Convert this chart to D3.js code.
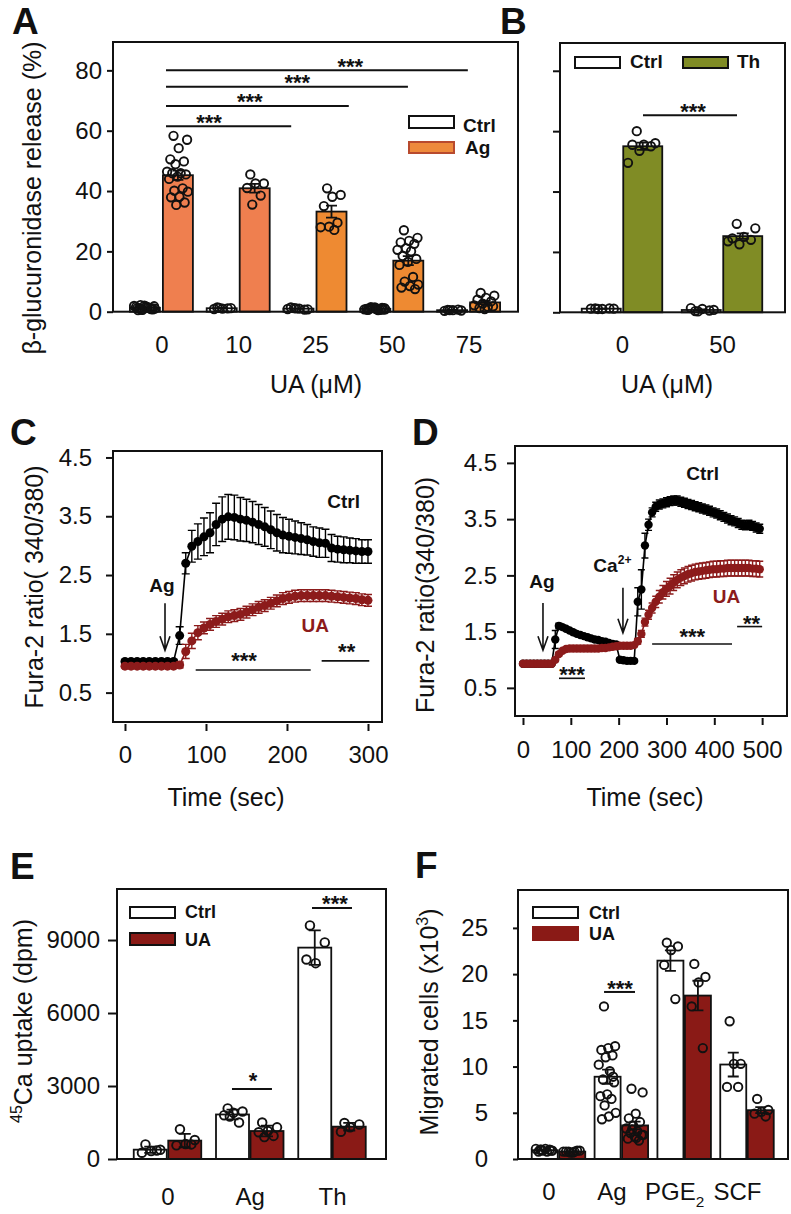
<!DOCTYPE html>
<html>
<head>
<meta charset="utf-8">
<script src="https://cdn.jsdelivr.net/npm/d3@7"></script>
<style>
  body { margin: 0; background: #fff; }
  svg { display: block; }
</style>
</head>
<body>
<div id="chart"></div>
<script>
// ---------- data ----------
// A: beta-glucuronidase release (%), individual replicates per UA concentration
const concA = ['0', '10', '25', '50', '75'];
const ctrlA = [
  [2.2, 1.8, 1.5, 1.2, 0.9, 0.6, 1.9, 1.4, 1.1, 0.8, 2.0, 1.6, 1.3, 0.7, 1.0, 1.7, 0.5, 1.2],
  [1.4, 1.2, 1.0, 0.9, 1.1, 1.3],
  [1.2, 0.8, 1.0, 1.4, 0.7, 1.1, 0.9],
  [1.5, 1.2, 0.9, 0.6, 1.0, 1.3, 0.8, 0.5, 1.1, 0.7, 1.4, 0.9, 0.6, 1.2, 0.8, 1.0, 0.7, 1.3],
  [0.6, 0.4, 0.5, 0.3, 0.7, 0.5]
];
const agA = [
  [58.3, 57.0, 54.2, 50.5, 49.8, 48.9, 46.4, 45.9, 45.9, 45.5, 44.8, 44.0, 40.9, 40.1, 39.8, 38.1, 37.9, 36.2, 35.4],
  [45.5, 42.5, 42.5, 41.0, 38.5, 35.5],
  [40.9, 38.7, 38.1, 35.0, 29.5, 28.2, 28.0, 27.1],
  [27.0, 24.5, 23.5, 23.0, 22.5, 21.0, 20.5, 20.0, 18.5, 17.5, 16.5, 15.5, 11.5, 10.0, 9.0, 8.5, 8.0, 7.5],
  [6.2, 5.3, 4.6, 4.0, 3.4, 2.7, 2.1, 1.6, 1.2, 1.8, 0.9]
];

// B: thapsigargin
const concB = ['0', '50'];
const ctrlB = [[1.3, 1.2, 1.1, 1.2, 1.3, 1.1], [0.4, 0.8, 1.1, 1.4, 0.6, 0.3]];
const thB = [[60.0, 56.0, 55.5, 55.5, 55.0, 53.5, 49.5], [29.3, 27.8, 25.0, 24.5, 24.0, 22.5, 23.5]];

// C: Fura-2 ratio, Ag stimulation
const timeC = [0, 7.5, 15, 22.5, 30, 37.5, 45, 52.5, 60, 67.5, 75, 82.5, 90, 97.5, 105, 112.5, 120, 127.5, 135, 142.5,
  150, 157.5, 165, 172.5, 180, 187.5, 195, 202.5, 210, 217.5, 225, 232.5, 240, 247.5, 255, 262.5, 270, 277.5, 285, 292.5, 300];
const ctrlC = [1.03, 1.03, 1.03, 1.03, 1.03, 1.03, 1.03, 1.03, 1.03, 1.47, 2.70, 2.99, 3.07, 3.15, 3.22, 3.36, 3.45, 3.49, 3.48, 3.45,
  3.43, 3.40, 3.36, 3.32, 3.27, 3.22, 3.18, 3.16, 3.14, 3.12, 3.10, 3.07, 3.05, 3.04, 2.96, 2.94, 2.93, 2.92, 2.91, 2.90, 2.90];
const ctrlCErr = [0.03, 0.03, 0.03, 0.03, 0.03, 0.03, 0.03, 0.03, 0.03, 0.15, 0.18, 0.27, 0.30, 0.32, 0.34, 0.36, 0.38, 0.38, 0.38, 0.37,
  0.36, 0.35, 0.34, 0.33, 0.32, 0.31, 0.30, 0.29, 0.28, 0.27, 0.26, 0.25, 0.25, 0.24, 0.23, 0.22, 0.22, 0.21, 0.21, 0.20, 0.20];
const uaC = [0.95, 0.95, 0.95, 0.95, 0.95, 0.95, 0.95, 0.95, 0.95, 0.97, 1.20, 1.38, 1.52, 1.60, 1.66, 1.71, 1.75, 1.79, 1.81, 1.83,
  1.87, 1.91, 1.95, 1.98, 2.02, 2.06, 2.10, 2.12, 2.14, 2.15, 2.15, 2.15, 2.15, 2.15, 2.14, 2.13, 2.12, 2.11, 2.10, 2.08, 2.07];
const uaCErr = [0.03, 0.03, 0.03, 0.03, 0.03, 0.03, 0.03, 0.03, 0.03, 0.05, 0.12, 0.13, 0.12, 0.10, 0.10, 0.10, 0.10, 0.10, 0.10, 0.10,
  0.10, 0.10, 0.10, 0.10, 0.10, 0.10, 0.10, 0.10, 0.10, 0.10, 0.10, 0.10, 0.10, 0.10, 0.10, 0.10, 0.10, 0.10, 0.10, 0.10, 0.10];

// D: Fura-2 ratio, Ag then Ca2+ add-back
const timeD = [0, 7.5, 15, 22.5, 30, 37.5, 45, 52.5, 60, 67.5, 75, 82.5, 90, 97.5, 105, 112.5, 120, 127.5, 135, 142.5,
  150, 157.5, 165, 172.5, 180, 187.5, 195, 202.5, 210, 217.5, 225, 232.5, 240, 247.5, 255, 262.5, 270, 277.5, 285, 292.5,
  300, 307.5, 315, 322.5, 330, 337.5, 345, 352.5, 360, 367.5, 375, 382.5, 390, 397.5, 405, 412.5, 420, 427.5, 435, 442.5,
  450, 457.5, 465, 472.5, 480, 487.5, 495];
const ctrlD = [0.93, 0.93, 0.93, 0.93, 0.93, 0.93, 0.93, 0.93, 0.93, 1.36, 1.60, 1.58, 1.55, 1.52, 1.49, 1.46, 1.44, 1.42, 1.40, 1.38,
  1.36, 1.35, 1.33, 1.32, 1.30, 1.28, 1.27, 1.00, 0.99, 0.98, 0.98, 0.98, 2.03, 2.25, 3.03, 3.40, 3.62, 3.72, 3.76, 3.78,
  3.80, 3.82, 3.83, 3.83, 3.81, 3.79, 3.77, 3.75, 3.73, 3.71, 3.69, 3.67, 3.65, 3.62, 3.60, 3.57, 3.54, 3.51, 3.48, 3.46,
  3.43, 3.40, 3.39, 3.40, 3.38, 3.35, 3.33];
const ctrlDErr = [0.02, 0.02, 0.02, 0.02, 0.02, 0.02, 0.02, 0.02, 0.02, 0.16, 0.05, 0.03, 0.03, 0.03, 0.03, 0.03, 0.03, 0.03, 0.03, 0.03,
  0.03, 0.03, 0.03, 0.03, 0.03, 0.03, 0.03, 0.03, 0.03, 0.03, 0.03, 0.03, 0.25, 0.35, 0.22, 0.10, 0.08, 0.08, 0.08, 0.08,
  0.08, 0.08, 0.08, 0.08, 0.08, 0.08, 0.08, 0.08, 0.08, 0.08, 0.08, 0.08, 0.08, 0.08, 0.08, 0.08, 0.08, 0.08, 0.08, 0.08,
  0.08, 0.08, 0.08, 0.08, 0.08, 0.08, 0.08];
const uaD = [0.93, 0.93, 0.93, 0.93, 0.93, 0.93, 0.93, 0.93, 0.93, 1.00, 1.10, 1.16, 1.19, 1.20, 1.20, 1.20, 1.20, 1.20, 1.20, 1.20,
  1.20, 1.20, 1.21, 1.21, 1.22, 1.23, 1.24, 1.25, 1.25, 1.25, 1.25, 1.26, 1.33, 1.46, 1.67, 1.80, 1.92, 2.03, 2.12, 2.20,
  2.26, 2.31, 2.37, 2.42, 2.46, 2.49, 2.52, 2.54, 2.56, 2.57, 2.58, 2.59, 2.60, 2.61, 2.61, 2.62, 2.62, 2.63, 2.63, 2.63,
  2.63, 2.63, 2.63, 2.63, 2.62, 2.62, 2.61];
const uaDErr = [0.02, 0.02, 0.02, 0.02, 0.02, 0.02, 0.02, 0.02, 0.02, 0.03, 0.03, 0.03, 0.03, 0.03, 0.03, 0.03, 0.03, 0.03, 0.03, 0.03,
  0.03, 0.03, 0.03, 0.03, 0.03, 0.03, 0.03, 0.03, 0.03, 0.03, 0.03, 0.03, 0.05, 0.06, 0.07, 0.08, 0.09, 0.10, 0.11, 0.12,
  0.13, 0.14, 0.14, 0.14, 0.14, 0.14, 0.14, 0.14, 0.14, 0.14, 0.14, 0.14, 0.14, 0.14, 0.14, 0.14, 0.14, 0.14, 0.14, 0.14,
  0.14, 0.14, 0.14, 0.14, 0.14, 0.14, 0.14];

// E: 45Ca uptake (dpm)
const condE = ['0', 'Ag', 'Th'];
const ctrlE = [[600, 380, 330, 260, 350], [2080, 1950, 1900, 1800, 1500, 1750], [9600, 8900, 8050, 8200]];
const uaE = [[1220, 780, 620, 560, 600], [1500, 1300, 1150, 1100, 950, 900], [1480, 1420, 1300, 1120]];

// F: migrated cells (x10^3)
const condF = ['0', 'Ag', 'PGE2', 'SCF'];
const ctrlF = [
  [1.0, 0.9, 1.1, 0.8, 1.0, 0.9, 1.1, 0.8, 1.0, 0.9],
  [16.5, 12.2, 12.0, 11.8, 11.2, 11.0, 10.2, 9.5, 8.6, 8.3, 7.0, 6.8, 6.5, 5.8, 5.0, 4.6, 4.3, 8.9],
  [23.4, 23.0, 22.6, 21.0, 17.3],
  [14.9, 10.3, 10.3, 7.8, 7.8]
];
const uaF = [
  [0.8, 0.9, 0.7, 0.8, 0.9, 0.7, 0.8, 0.8],
  [7.6, 7.2, 4.9, 4.4, 4.0, 3.6, 3.3, 3.0, 2.8, 2.6, 2.4, 2.2, 2.0, 3.2, 2.6, 2.3],
  [21.1, 19.7, 19.1, 16.5, 12.0],
  [6.5, 5.3, 5.1, 4.9, 4.6]
];

// ---------- styles ----------
const FONT = "'Liberation Sans', Arial, Helvetica, sans-serif";
const INK = '#111';
const RED = '#8c1b1b';
const BAR_RED = '#8a1a16';
const OLIVE = '#808c25';
const agColors = ['#ef7f4f', '#ef7f4f', '#ee8a32', '#ee8a32', '#ee8a32'];

const svg = d3.select('#chart').append('svg')
  .attr('width', 791).attr('height', 1214)
  .attr('font-family', FONT);
svg.append('rect').attr('width', 791).attr('height', 1214).attr('fill', '#fff');

function rich(sel, parts, size) {
  let shift = 0;
  parts.forEach(([t, k]) => {
    const target = k === 'sup' ? -0.42 * size : k === 'sub' ? 0.28 * size : 0;
    const ts = sel.append('tspan')
      .attr('font-size', k ? size * 0.64 : size)
      .text(t);
    if (target - shift !== 0) ts.attr('dy', target - shift);
    shift = target;
  });
}

function letter(t, x, y) {
  svg.append('text').attr('x', x).attr('y', y)
    .attr('font-size', 37).attr('font-weight', 'bold').attr('fill', INK).text(t);
}

function yTitle(parts, x, y) {
  const t = svg.append('text')
    .attr('transform', `translate(${x},${y}) rotate(-90)`)
    .attr('text-anchor', 'middle').attr('fill', INK);
  rich(t, parts, 25);
}

function xTitle(s, x, y) {
  svg.append('text').attr('x', x).attr('y', y).attr('text-anchor', 'middle')
    .attr('font-size', 25).attr('fill', INK).text(s);
}

function styleAxis(sel) {
  sel.attr('font-family', FONT).attr('font-size', 24);
  sel.select('.domain').remove();
  sel.selectAll('.tick line').attr('stroke', INK).attr('stroke-width', 2);
  sel.selectAll('.tick text').attr('fill', INK);
}

function frame(g, o) {
  g.append('rect')
    .attr('x', o.left).attr('y', o.top)
    .attr('width', o.right - o.left).attr('height', o.bottom - o.top)
    .attr('fill', 'none').attr('stroke', INK).attr('stroke-width', 2);
}

function sigMarks(g, list, xs, y, lw) {
  list.forEach(s => {
    g.append('line')
      .attr('x1', xs(s.x1)).attr('x2', xs(s.x2))
      .attr('y1', y(s.y)).attr('y2', y(s.y))
      .attr('stroke', INK).attr('stroke-width', lw);
    g.append('text')
      .attr('x', xs(s.sx)).attr('y', y(s.y) + s.dy)
      .attr('text-anchor', 'middle').attr('font-size', 22).attr('font-weight', 'bold')
      .attr('fill', INK)
      .text(s.t);
  });
}

const jit = j => ((j * 0.618034 + 0.3) % 1) * 2 - 1;

// ---------- bar + dot panels ----------
function barPanel(o) {
  const g = svg.append('g');
  const y = d3.scaleLinear().domain([0, o.yTop]).range([o.bottom, o.top]);
  const x = d3.scalePoint().domain(o.groups).range(o.centers);
  const gi = d3.scaleLinear().domain([0, o.groups.length - 1]).range(o.centers);
  const sub = d3.scaleBand().domain(o.series.map(s => s.name))
    .range([-(o.off + o.barW / 2), o.off + o.barW / 2])
    .paddingInner((2 * o.off - o.barW) / (2 * o.off));

  const stats = o.series.map(s => s.values.map((v, i) => {
    const sd = d3.deviation(v);
    return {
      name: s.name, grp: o.groups[i], i, v,
      m: d3.mean(v),
      e: o.sd ? sd : sd / Math.sqrt(v.length),
      fill: typeof s.fill === 'function' ? s.fill(i) : s.fill
    };
  }));
  const all = stats.flat();
  const cx = d => x(d.grp) + sub(d.name) + sub.bandwidth() / 2;

  g.selectAll('rect.bar').data(all).join('rect')
    .attr('class', 'bar')
    .attr('x', d => x(d.grp) + sub(d.name))
    .attr('width', sub.bandwidth())
    .attr('y', d => y(d.m))
    .attr('height', d => y(0) - y(d.m))
    .attr('fill', d => d.fill)
    .attr('stroke', INK).attr('stroke-width', 1.8);

  g.selectAll('path.err').data(all).join('path')
    .attr('class', 'err')
    .attr('d', d => {
      const c = cx(d), a = y(d.m + d.e), b = y(Math.max(0, d.m - d.e)), h = o.cap / 2;
      return `M${c},${a}V${b}M${c - h},${a}H${c + h}M${c - h},${b}H${c + h}`;
    })
    .attr('fill', 'none').attr('stroke', INK).attr('stroke-width', 1.8);

  const dots = all.flatMap(d => d.v.map((val, j) => ({ x: cx(d) + jit(j) * o.spread, val })));
  g.selectAll('circle').data(dots).join('circle')
    .attr('cx', d => d.x).attr('cy', d => y(d.val)).attr('r', o.r)
    .attr('fill', 'none').attr('stroke', INK).attr('stroke-width', 1.9);

  const ya = g.append('g').attr('transform', `translate(${o.left},0)`)
    .call(d3.axisLeft(y).tickValues(o.yTicks).tickSize(o.tickLen).tickPadding(o.tickPad)
      .tickFormat(o.noYLabels ? () => '' : d3.format('d')));
  styleAxis(ya);

  const xa = g.append('g').attr('transform', `translate(0,${o.bottom})`)
    .call(d3.axisBottom(x).tickSize(0).tickPadding(o.xPad));
  styleAxis(xa);
  xa.selectAll('.tick text').attr('dx', o.xDx || 0);
  xa.selectAll('.tick text').filter(d => d === 'PGE2').text(null)
    .each(function () { rich(d3.select(this), [['PGE'], ['2', 'sub']], 24); });

  frame(g, o);

  o.legend.forEach(l => {
    g.append('rect').attr('x', l.x).attr('y', l.y).attr('width', 45).attr('height', l.h)
      .attr('fill', l.fill).attr('stroke', l.stroke).attr('stroke-width', 2);
    g.append('text').attr('x', l.tx).attr('y', l.ty)
      .attr('font-size', l.fs).attr('font-weight', 'bold').attr('fill', INK).text(l.t);
  });

  sigMarks(g, o.sig, gi, y, 2);
}

// ---------- time-course panels ----------
function timePanel(o) {
  const g = svg.append('g');
  const x = d3.scaleLinear().domain(o.xDom).range([o.left, o.right]);
  const y = d3.scaleLinear().domain(o.yDom).range([o.bottom, o.top]);

  const ya = g.append('g').attr('transform', `translate(${o.left},0)`)
    .call(d3.axisLeft(y).tickValues(o.yTicks).tickSize(o.yTickLen).tickPadding(o.yTickPad)
      .tickFormat(d3.format('.1f')));
  styleAxis(ya);
  const xa = g.append('g').attr('transform', `translate(0,${o.bottom + 2})`)
    .call(d3.axisBottom(x).tickValues(o.xTicks).tickSize(7).tickPadding(o.xPad)
      .tickFormat(d3.format('d')));
  styleAxis(xa);

  o.series.forEach(s => {
    const pts = s.t.map((t, i) => ({ t, v: s.v[i], e: s.e[i] }));
    g.append('g').selectAll('path').data(pts).join('path')
      .attr('d', d => {
        const c = x(d.t), a = y(d.v + d.e), b = y(d.v - d.e), h = o.cap / 2;
        return `M${c},${a}V${b}M${c - h},${a}H${c + h}M${c - h},${b}H${c + h}`;
      })
      .attr('fill', 'none').attr('stroke', s.color).attr('stroke-width', 1.4);
    g.append('path').datum(pts)
      .attr('d', d3.line().x(d => x(d.t)).y(d => y(d.v)))
      .attr('fill', 'none').attr('stroke', s.color).attr('stroke-width', 1.6);
    g.append('g').selectAll('circle').data(pts).join('circle')
      .attr('cx', d => x(d.t)).attr('cy', d => y(d.v)).attr('r', o.r)
      .attr('fill', s.color);
  });

  frame(g, o);

  o.labels.forEach(l => {
    const t = g.append('text').attr('x', x(l.x)).attr('y', y(l.y))
      .attr('text-anchor', 'middle').attr('font-weight', 'bold')
      .attr('fill', l.color || INK);
    rich(t, l.parts, 19);
  });

  o.arrows.forEach(a => {
    const c = x(a.x), y1 = y(a.y1), y2 = y(a.y2);
    g.append('path')
      .attr('d', `M${c},${y1}V${y2}M${c - 5},${y2 - 14}L${c},${y2}L${c + 5},${y2 - 14}`)
      .attr('fill', 'none').attr('stroke', INK).attr('stroke-width', 1.6);
  });

  sigMarks(g, o.sig, x, y, 1.6);
}

// ---------- panel A ----------
barPanel({
  left: 113, right: 518, top: 42, bottom: 311.7, yTop: 89.4,
  yTicks: [0, 20, 40, 60, 80], tickLen: 6, tickPad: 5,
  groups: concA, centers: [161.4, 468.6], off: 16.5, barW: 30, cap: 11,
  spread: 11, r: 4.2, xPad: 24.3,
  series: [
    { name: 'Ctrl', values: ctrlA, fill: '#fff' },
    { name: 'Ag', values: agA, fill: i => agColors[i] }
  ],
  legend: [
    { t: 'Ctrl', x: 409, y: 116, h: 12, fill: '#fff', stroke: INK, tx: 463, ty: 132, fs: 19 },
    { t: 'Ag', x: 409, y: 142, h: 11, fill: '#ee8a3c', stroke: '#b84a2e', tx: 465, ty: 154, fs: 19 }
  ],
  sig: [
    { x1: 0.06, x2: 1.69, y: 61.5, sx: 0.62, dy: 3.5, t: '***' },
    { x1: 0.06, x2: 2.44, y: 68.2, sx: 1.15, dy: 3.5, t: '***' },
    { x1: 0.06, x2: 3.21, y: 74.6, sx: 1.77, dy: 3.5, t: '***' },
    { x1: 0.06, x2: 3.99, y: 80.0, sx: 2.46, dy: 3.5, t: '***' }
  ]
});
letter('A', 12, 34);
yTitle([['β-glucuronidase release (%)']], 41, 198);
xTitle('UA (μM)', 316, 393);

// ---------- panel B ----------
barPanel({
  left: 560, right: 785, top: 43, bottom: 312.3, yTop: 89.2,
  yTicks: [0, 20, 40, 60, 80], tickLen: 7, tickPad: 5, noYLabels: true,
  groups: concB, centers: [622, 722], off: 20.75, barW: 39, cap: 12,
  spread: 15, r: 4.2, xPad: 24,
  series: [
    { name: 'Ctrl', values: ctrlB, fill: '#fff' },
    { name: 'Th', values: thB, fill: OLIVE }
  ],
  legend: [
    { t: 'Ctrl', x: 575, y: 57, h: 11, fill: '#fff', stroke: INK, tx: 630, ty: 68, fs: 19 },
    { t: 'Th', x: 683, y: 57, h: 11, fill: OLIVE, stroke: INK, tx: 737, ty: 68, fs: 19 }
  ],
  sig: [{ x1: 0.21, x2: 1.15, y: 65.3, sx: 0.71, dy: 3.4, t: '***' }]
});
letter('B', 500, 34);
xTitle('UA (μM)', 667, 393);

// ---------- panel C ----------
timePanel({
  left: 113, right: 382, top: 451, bottom: 722,
  xDom: [-14.8, 317.3], yDom: [0, 4.61],
  yTicks: [0.5, 1.5, 2.5, 3.5, 4.5], yTickLen: 7, yTickPad: 14,
  xTicks: [0, 100, 200, 300], xPad: 15,
  r: 4.5, cap: 8,
  series: [
    { t: timeC, v: ctrlC, e: ctrlCErr, color: '#000' },
    { t: timeC, v: uaC, e: uaCErr, color: RED }
  ],
  labels: [
    { parts: [['Ctrl']], x: 270, y: 3.64 },
    { parts: [['UA']], x: 235, y: 1.53, color: RED },
    { parts: [['Ag']], x: 45.7, y: 2.21 }
  ],
  arrows: [{ x: 49.4, y1: 2.02, y2: 1.22 }],
  sig: [
    { x1: 87.3, x2: 229.3, y: 0.884, sx: 147, dy: -2, t: '***' },
    { x1: 242.8, x2: 301.6, y: 1.04, sx: 273.7, dy: -1.6, t: '**' }
  ]
});
letter('C', 10, 445);
yTitle([['Fura-2 ratio( 340/380)']], 43, 587);
xTitle('Time (sec)', 226, 806);

// ---------- panel D ----------
timePanel({
  left: 515, right: 787, top: 446, bottom: 716,
  xDom: [-16.7, 552], yDom: [0, 4.8],
  yTicks: [0.5, 1.5, 2.5, 3.5, 4.5], yTickLen: 8, yTickPad: 10,
  xTicks: [0, 100, 200, 300, 400, 500], xPad: 16,
  r: 4.2, cap: 7,
  series: [
    { t: timeD, v: ctrlD, e: ctrlDErr, color: '#000' },
    { t: timeD, v: uaD, e: uaDErr, color: RED }
  ],
  labels: [
    { parts: [['Ctrl']], x: 375.5, y: 4.2 },
    { parts: [['UA']], x: 425.7, y: 2.01, color: RED },
    { parts: [['Ag']], x: 39.7, y: 2.28 },
    { parts: [['Ca'], ['2+', 'sup']], x: 187, y: 2.56 }
  ],
  arrows: [
    { x: 41.8, y1: 2.01, y2: 1.17 },
    { x: 209, y1: 2.28, y2: 1.48 }
  ],
  sig: [
    { x1: 75.3, x2: 129.7, y: 0.67, sx: 102.5, dy: 4, t: '***' },
    { x1: 270, x2: 437, y: 1.28, sx: 354, dy: 0.4, t: '***' },
    { x1: 447.7, x2: 500, y: 1.59, sx: 478, dy: 4.7, t: '**' }
  ]
});
letter('D', 412, 445);
yTitle([['Fura-2 ratio(340/380)']], 434, 595);
xTitle('Time (sec)', 645, 806);

// ---------- panel E ----------
barPanel({
  left: 117, right: 386, top: 889, bottom: 1159, yTop: 11097, sd: true,
  yTicks: [0, 3000, 6000, 9000], tickLen: 9, tickPad: 8,
  groups: condE, centers: [167.5, 332], off: 17.25, barW: 33, cap: 12,
  spread: 12, r: 4.3, xPad: 29,
  series: [
    { name: 'Ctrl', values: ctrlE, fill: '#fff' },
    { name: 'UA', values: uaE, fill: BAR_RED }
  ],
  legend: [
    { t: 'Ctrl', x: 130, y: 907, h: 11, fill: '#fff', stroke: INK, tx: 185, ty: 918, fs: 18 },
    { t: 'UA', x: 130, y: 933, h: 12, fill: BAR_RED, stroke: INK, tx: 185, ty: 946, fs: 18 }
  ],
  sig: [
    { x1: 0.784, x2: 1.27, y: 2877, sx: 1.04, dy: -1, t: '*' },
    { x1: 1.757, x2: 2.243, y: 10316, sx: 2.036, dy: 3.4, t: '***' }
  ]
});
letter('E', 10, 879);
yTitle([['45', 'sup'], ['Ca uptake (dpm)']], 32, 1021);

// ---------- panel F ----------
barPanel({
  left: 518, right: 788, top: 890, bottom: 1159, yTop: 29.1,
  yTicks: [0, 5, 10, 15, 20, 25], tickLen: 5, tickPad: 25,
  groups: condF, centers: [558.5, 747], off: 13.75, barW: 26, cap: 11,
  spread: 9, r: 4.2, xPad: 24, xDx: -10,
  series: [
    { name: 'Ctrl', values: ctrlF, fill: '#fff' },
    { name: 'UA', values: uaF, fill: BAR_RED }
  ],
  legend: [
    { t: 'Ctrl', x: 533, y: 907, h: 11, fill: '#fff', stroke: INK, tx: 589, ty: 919, fs: 18 },
    { t: 'UA', x: 533, y: 927, h: 13, fill: BAR_RED, stroke: BAR_RED, tx: 589, ty: 940, fs: 18 }
  ],
  sig: [{ x1: 0.725, x2: 1.218, y: 18.07, sx: 0.98, dy: 4.4, t: '***' }]
});
letter('F', 415, 878);
yTitle([['Migrated cells (x10'], ['3', 'sup'], [')']], 438, 1022);
</script>
</body>
</html>
